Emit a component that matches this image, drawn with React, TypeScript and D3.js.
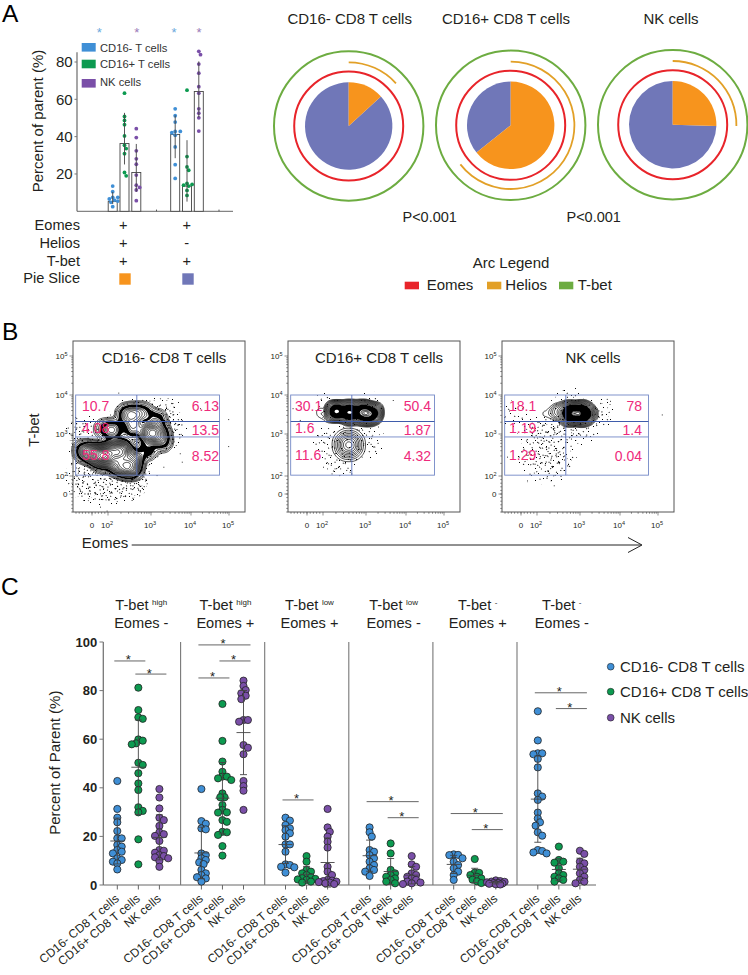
import { useMemo } from 'react';
import * as d3 from 'd3';

const FONT = '"Liberation Sans", Arial, sans-serif';
const INK = '#231f20';
const CELL_COLORS = ['#3f8fd6', '#0c9a50', '#7a4fa8'];

// ---- Panel A data
const barGroups = ['triple', 'noHelios'];
const barCells = ['CD16- T cells', 'CD16+ T cells', 'NK cells'];
const barHeights = [
  [5.2, 36.3, 20.8],
  [41.2, 13.5, 64.2],
];
const barDots = [
  [
    [13.5, 10.5, 7.5, 7.5, 6.6, 6, 5.5, 4.8, 2.5],
    [63.3, 50.8, 48.7, 46.4, 40.4, 35.4, 33.6, 30.9, 20.8, 19],
    [44.3, 39.5, 32.4, 28.1, 25.2, 19.4, 14, 12.8, 11.4, 5.7],
  ],
  [
    [54.9, 51.2, 47.8, 42.8, 42.8, 42.1, 40.7, 34.5, 25, 17.6],
    [64.9, 29.3, 23.8, 22, 14.9, 14, 14.4, 13.5, 11.2, 8.5],
    [85.7, 83.9, 78.9, 74, 66.8, 63.3, 54.9, 52.6, 50.1, 43],
  ],
];
const barTicks = [20, 40, 60, 80];
const rowLabels = ['Eomes', 'Helios', 'T-bet'];
const rowMarks = [
  ['+', '+'],
  ['+', '-'],
  ['+', '+'],
];
const pieTitles = ['CD16- CD8 T cells', 'CD16+ CD8 T cells', 'NK cells'];
const sliceShare = [0.132, 0.643, 0.255];
const heliosShare = [0.133, 0.645, 0.253];
const pValues = ['P<0.001', 'P<0.001'];
const arcNames = ['Eomes', 'Helios', 'T-bet'];
const arcColors = ['#e8242a', '#e2a027', '#6dac41'];
const ORANGE = '#f7941d';
const PERIWINKLE = '#7077b8';

// ---- Panel B data, axis units: 0 = zero, 2 = 10^2 ... 5 = 10^5
const flowTickUnits = [2, 3, 4, 5];
const gateX = [-2.04, 2.67, 4.75];
const gateY = [2.02, 2.93, 3.32, 4.0];
const flowTitles = ['CD16- CD8 T cells', 'CD16+ CD8 T cells', 'NK cells'];
const flowPercents = [
  ['10.7', '6.13', '4.08', '13.5', '55.8', '8.52'],
  ['30.1', '50.4', '1.6', '1.87', '11.6', '4.32'],
  ['18.1', '78', '1.19', '1.4', '1.29', '0.04'],
];
// density peaks: eomes, t-bet, weight
const flowCore = [
  [
    [2.32, 2.6, 9], [2.1, 2.62, 5], [0.58, 2.52, 5], [-0.3, 2.55, 3.5], [-1.08, 2.6, 2.2], [1.2, 2.5, 5], [1.83, 2.5, 6],
    [2.36, 2.22, 6], [2.55, 2.18, 5], [2.16, 2.3, 4], [2.6, 2.4, 4], [1.2, 2.34, 2.5],
    [2.98, 3.02, 7], [3.22, 3.02, 3], [2.43, 3.49, 2.6], [2.6, 3.52, 2.4], [2.82, 3.53, 2.2], [3.14, 3.36, 2.2],
    [3.27, 2.82, 2], [2.59, 3.15, 3], [2.9, 2.62, 2],
    [1.42, 3.13, 1.2], [2.12, 3.1, 3],
  ],
  [
    [2.31, 3.58, 12], [2.62, 3.6, 8], [2.93, 3.6, 8], [3.18, 3.55, 6], [2.62, 3.48, 5], [2.93, 3.48, 5], [3.1, 3.46, 4],
    [1.8, 3.55, 0.35], [0.75, 3.58, 0.05], [2.1, 3.4, 0.2],
  ],
  [
    [2.89, 3.53, 12], [3.05, 3.6, 7], [3.05, 3.45, 7], [2.75, 3.6, 6], [2.75, 3.45, 6], [3.2, 3.52, 4],
    [2.5, 3.57, 2], [2.2, 3.52, 0.4],
  ],
];
// broader peaks, drawn with their own wider kernel
const flowWide = [
  [],
  [[2.6, 2.74, 1]],
  [],
];
// thin scatter around the peaks
const flowCloud = [
  [
    [2.05, 1.17, 8], [-1.08, 1.93, 6], [2.43, 1.17, 8], [1, 1.5, 6], [2.6, 1.6, 6], [-1.4, 3.1, 3],
    [3.5, 3.1, 4], [3.35, 3.55, 4], [0.2, 0.5, 2], [2.1, 0.3, 3], [2, 1.7, 7], [1, 1.95, 6], [-0.8, 1.3, 4],
  ],
  [
    [2.4, 2.35, 1], [2.1, 2.8, 0.6], [3.1, 2.8, 0.5], [3.1, 3.75, 0.25], [2.1, 3.75, 0.25], [2.7, 3.1, 0.6],
  ],
  [
    [2.5, 2.45, 1.5], [2.4, 2.2, 0.7], [2.65, 3.12, 1.6], [2.2, 3.1, 0.9], [1.2, 2.5, 0.4], [1.6, 3.0, 0.5],
    [3.1, 3.1, 0.5], [3.5, 3.55, 0.6], [2.7, 3.82, 0.5], [1.8, 2.15, 0.3], [-0.6, 3.5, 0.3], [2.2, 2.8, 0.7], [1.9, 2.5, 0.5],
  ],
];
const cloudIncludesCore = [true, false, false];
const flowStrays = [
  [
    [4.98, 3.38], [4.98, 2.71], [3.52, 3.79], [2.24, 4.06], [3.77, 2.34], [3.31, 2.22], [1, -1.41], [-1.08, -0.67],
    [-1.83, 0.81], [-0.25, 0.07], [1.83, -1.85], [3.14, 2.02], [4.24, 3.66], [3.77, 3.36], [3.56, 3.7], [3.72, 2.54],
    [2.28, -0.3], [2.74, 0.44], [2.9, 1.19], [2.55, -0.67], [1, 0.07], [2.16, 0.63],
  ],
  [
    [3.67, 3.87], [2.12, 3.15], [2.16, 2.98], [3.13, 2.9], [3.18, 2.7], [2.12, 2.3], [2.27, 2.18], [2, 2.22], [2.62, 2.1],
    [2.2, 2.06], [2.4, 2.18], [2.66, 2.06], [-0.9, 3.36], [3.1, 3.15], [3.3, 3.19], [2.35, 2.22], [2.9, 2.46], [2.04, 2.42],
    [2.08, 2.54], [-1.8, 3.66],
  ],
  [
    [5.1, 3.5], [3.67, 3.9], [3.4, 3.27], [2.39, 0.96], [0.75, 1.5], [-1.75, 2.46], [3.25, 2.95], [2.23, 1.98], [3.75, 3.85],
    [-1.5, 3.6], [-2, 3.45],
  ],
];
const coreBandwidth = [5.5, 4.5, 4.5];
const cloudBandwidth = [7, 7, 7];
const wideBandwidth = 8;
const coreLevels = [
  [0.95, 0.88, 0.81, 0.74, 0.67, 0.61, 0.55, 0.49, 0.44, 0.39, 0.34, 0.3, 0.26, 0.23, 0.2, 0.175, 0.155, 0.06, 0.04, 0.028, 0.018],
  [0.96, 0.9, 0.84, 0.28, 0.22, 0.17, 0.13, 0.1, 0.075, 0.055, 0.04, 0.028, 0.018],
  [0.97, 0.93, 0.2, 0.16, 0.125, 0.095, 0.07, 0.05, 0.036, 0.025, 0.016],
];
const wideLevels = [0.95, 0.85, 0.74, 0.63, 0.52, 0.42, 0.32, 0.23, 0.14];
// painted inside the rings: where the lines merge into black, and the open middle of a peak
const solidLevels = [
  [[0.075, '#000'], [0.14, '#fff']],
  [[0.3, '#000'], [0.78, '#fff']],
  [[0.22, '#000'], [0.91, '#fff']],
];
const cloudLevels = [
  [0.012, 0.025, 0.045, 0.07, 0.1, 0.14],
  [0.05, 0.13, 0.3],
  [0.025, 0.07, 0.16, 0.3, 0.45, 0.62],
];
const stippleTile = [
  [3, 2], [11, 5], [17, 1], [26, 3], [33, 7], [38, 2], [6, 10], [15, 12], [22, 9], [29, 14], [36, 12], [1, 17], [9, 19], [19, 18], [25, 21], [33, 19],
  [39, 23], [4, 25], [13, 27], [21, 26], [30, 28], [36, 30], [8, 32], [16, 35], [24, 33], [2, 36], [28, 38], [34, 36], [11, 39], [20, 38],
];
const stippleTurns = [0, 37, 71, 113, 149, 17];

// ---- Panel C data
const facetTop = ['T-bet', 'T-bet', 'T-bet', 'T-bet', 'T-bet', 'T-bet'];
const facetSup = ['high', 'high', 'low', 'low', '-', '-'];
const facetBottom = ['Eomes -', 'Eomes +', 'Eomes +', 'Eomes -', 'Eomes +', 'Eomes -'];
const cells = ['CD16- CD8 T cells', 'CD16+ CD8 T cells', 'NK cells'];
const parentTicks = [0, 20, 40, 60, 80, 100];
const facetValues = [
  [
    [42.8, 31.3, 27.7, 25.8, 22.2, 19.2, 19.2, 16.5, 15.8, 14.4, 13.7, 13, 11, 10.3, 9.6, 8.9, 6.4],
    [81.2, 72, 69, 68.4, 59.9, 59.4, 58.3, 57.9, 50.3, 49.4, 46, 41.8, 39.1, 32, 30.5, 29.9, 18.8, 8.5],
    [39.5, 36, 31.5, 27.7, 26.7, 24.3, 21.7, 20.9, 20.2, 18.1, 14.4, 14.1, 13.3, 12.3, 11.9, 11.4, 11, 9.9, 7.5],
  ],
  [
    [39.5, 26.3, 25.2, 23.3, 22.9, 13, 12.3, 11, 10.3, 9.3, 8.6, 6.2, 4.8, 4.1, 3.2, 2.7, 1.4],
    [74.5, 59.3, 50.8, 46.6, 44.6, 44.6, 43.9, 43.2, 37.7, 36.1, 36.1, 32.9, 30.9, 29.9, 29.8, 26.7, 26, 21.9, 21.7, 20.6, 16, 12.1],
    [84.1, 81.9, 80.2, 78.9, 77.9, 76.5, 67.9, 67.9, 67.2, 57.6, 56.5, 53.8, 42.8, 40.7, 38.8, 30.9],
  ],
  [
    [27.7, 26.5, 24.7, 23.3, 22.6, 21.3, 19.9, 16.7, 16.7, 13.7, 8.5, 8.2, 7.5, 7.3, 5.1],
    [11.9, 9.6, 6.2, 5.5, 4.8, 4.1, 3.2, 2.5, 2.3, 2.1, 1.4, 1, 2.8],
    [31.3, 23.7, 21.9, 19.9, 17.8, 15.4, 7.5, 5.5, 4.1, 2.1, 1.6, 1.4, 1.2, 1, 0.7, 0.4, 1.8],
  ],
  [
    [23.7, 21.7, 19.9, 14.4, 13.7, 12.3, 11, 9.6, 8.2, 6.9, 6.2, 5.5, 3.7],
    [17.1, 13, 6.2, 4.8, 4.1, 3.4, 2.7, 2.1, 1.4, 0.7],
    [11.9, 8.5, 7.5, 4.8, 4.1, 3.4, 2.7, 2.1, 1.4, 1, 0.7, 0.4],
  ],
  [
    [12.6, 12.4, 12.3, 11, 9.6, 8.2, 6.9, 5.5, 4.1, 2.1],
    [10.7, 5.1, 5, 4.1, 3.4, 2.7, 2.2, 1.5, 0.8],
    [1.9, 1.6, 1.4, 1.3, 1.1, 0.9, 0.8, 0.6, 0.5, 0.3, 0.2],
  ],
  [
    [71.5, 59.5, 54.2, 54.2, 53.8, 51.9, 48.4, 37.7, 36.4, 35, 29.8, 27.4, 25.8, 24.4, 21.7, 20.3, 14.4, 14, 13.4, 13],
    [15.8, 10.3, 9.6, 9.2, 6.9, 4.8, 4.1, 3.4, 2.7, 2.1, 1.4],
    [14.1, 12.8, 9.6, 8.9, 7.5, 6.2, 4.8, 3.4, 2.1, 1.4, 0.7],
  ],
];
// significance bars: facet, from cell, to cell, height on the axis
const sigBars = [
  [0, 0, 1, 92.2], [0, 1, 2, 86.8],
  [1, 0, 2, 98.8], [1, 1, 2, 92.2], [1, 0, 1, 85.2],
  [2, 0, 1, 35],
  [3, 0, 2, 34.3], [3, 1, 2, 27.7],
  [4, 0, 2, 29.4], [4, 1, 2, 22.8],
  [5, 0, 2, 79.1], [5, 1, 2, 72.6],
];

// pushes dots sideways as far as needed, and once the column is full takes the emptiest slot
function swarm(values: number[], y: (v: number) => number, gap: number, step: number, widest: number) {
  const placed: { v: number; dx: number; py: number }[] = [];
  const slots = d3.range(0, Math.floor(widest / step) * 2 + 1).map(i => Math.ceil(i / 2) * (i % 2 ? 1 : -1) * step);
  [...values].sort((a, b) => d3.descending(a, b)).forEach(v => {
    const py = y(v);
    let best = 0;
    let room = -1;
    for (const dx of slots) {
      const near = d3.min(placed, p => Math.hypot(p.dx - dx, p.py - py)) ?? Infinity;
      if (near >= gap) {
        best = dx;
        break;
      }
      if (near > room) {
        room = near;
        best = dx;
      }
    }
    placed.push({ v, dx: best, py });
  });
  return placed;
}

function Stat({ x, values, y, cap, mean }: { x: number; values: number[]; y: (v: number) => number; cap: number; mean?: number }) {
  const m = d3.mean(values) as number;
  const sd = d3.deviation(values) as number;
  return (
    <g stroke="#444" strokeWidth={0.9} fill="none">
      <line x1={x} x2={x} y1={y(m - sd)} y2={y(m + sd)} />
      <line x1={x - cap} x2={x + cap} y1={y(m - sd)} y2={y(m - sd)} />
      <line x1={x - cap} x2={x + cap} y1={y(m + sd)} y2={y(m + sd)} />
      {mean ? <line x1={x - mean} x2={x + mean} y1={y(m)} y2={y(m)} /> : null}
    </g>
  );
}

function PanelA() {
  const y = d3.scaleLinear().domain([0, 80]).range([211.3, 62]);
  const xGroup = d3.scalePoint<string>().domain(barGroups).range([124.5, 187]);
  const xCell = d3.scalePoint<string>().domain(barCells).range([-11.8, 11.8]);
  const legendY = [47.3, 64, 83.3];
  const legendBase = [52, 68, 86];
  const rowBase = [230, 248.3, 266];
  const starX = [99.3, 136.7, 174, 199];
  const starColor = ['#6aa8dc', '#9a7ab8', '#6aa8dc', '#9a7ab8'];
  const swatches = [ORANGE, PERIWINKLE];

  return (
    <g fontFamily={FONT} fill={INK}>
      {starX.map((x, i) => (
        <text key={i} x={x} y={37} fontSize={13} textAnchor="middle" fill={starColor[i]}>*</text>
      ))}
      <line x1={77} x2={77} y1={52.3} y2={211.3} stroke="#777" strokeWidth={1.3} />
      <line x1={77} x2={233} y1={211.3} y2={211.3} stroke="#555" strokeWidth={0.9} />
      {barTicks.map(t => (
        <g key={t}>
          <line x1={74.5} x2={77} y1={y(t)} y2={y(t)} stroke="#777" />
          <text x={72.7} y={y(t) + 5.2} fontSize={15} textAnchor="end">{t}</text>
        </g>
      ))}
      {barGroups.map(g => (
        <line key={g} x1={xGroup(g)! + 32} x2={xGroup(g)! + 32} y1={209.6} y2={211.3} stroke="#555" />
      ))}
      <text transform="translate(43,121) rotate(-90)" fontSize={15} textAnchor="middle">Percent of parent (%)</text>

      {barGroups.map((g, gi) =>
        barCells.map((c, ci) => {
          const cx = xGroup(g)! + xCell(c)!;
          const dots = swarm(barDots[gi][ci], y, 3.6, 1.7, 6);
          return (
            <g key={g + c}>
              <rect x={cx - 4.5} y={y(barHeights[gi][ci])} width={9} height={y(0) - y(barHeights[gi][ci])} fill="#fff" stroke="#444" strokeWidth={0.9} />
              {dots.map((d, i) => (
                <circle key={i} cx={cx + d.dx} cy={d.py} r={1.9} fill={CELL_COLORS[ci]} />
              ))}
              <Stat x={cx} values={barDots[gi][ci]} y={y} cap={0} />
            </g>
          );
        }),
      )}

      {barCells.map((c, i) => (
        <g key={c}>
          <rect x={81.7} y={legendY[i] - 4.3} width={14} height={8.6} fill={CELL_COLORS[i]} />
          <text x={100} y={legendBase[i]} fontSize={11.2} fill="#333">{c}</text>
        </g>
      ))}

      {rowLabels.map((r, i) => (
        <g key={r}>
          <text x={80} y={rowBase[i]} fontSize={14.6} textAnchor="end">{r}</text>
          {rowMarks[i].map((m, j) => (
            <text key={j} x={xGroup(barGroups[j])! - (j ? 0.3 : 1.2)} y={rowBase[i]} fontSize={14.6} textAnchor="middle">{m}</text>
          ))}
        </g>
      ))}
      <text x={80} y={283} fontSize={14.6} textAnchor="end">Pie Slice</text>
      {swatches.map((c, j) => (
        <rect key={c} x={xGroup(barGroups[j])! - (j ? 4.7 : 5.2)} y={273.3} width={11.4} height={11.4} fill={c} />
      ))}
    </g>
  );
}

function PanelPies() {
  const cx = d3.scalePoint<string>().domain(['0', '1', '2']).range([348.7, 672.7]);
  const cy = [126, 125.3, 124.7];
  const titleX = [349.7, 506, 671];
  const pie = d3.pie<number>().sort(null);
  const slice = d3.arc<d3.PieArcDatum<number>>().innerRadius(0).outerRadius(43.7);
  const ring = d3.arc();
  const pX = [429.7, 593.7];
  const legendRect = [404.7, 487, 559];
  const legendText = [426.7, 505.3, 577.7];

  return (
    <g fontFamily={FONT} fill={INK}>
      {pieTitles.map((t, i) => (
        <text key={t} x={titleX[i]} y={23.5} fontSize={15} textAnchor="middle">{t}</text>
      ))}
      {sliceShare.map((s, i) => {
        const parts = pie([s, 1 - s]);
        return (
          <g key={i} transform={`translate(${cx(String(i))},${cy[i]})`}>
            <path d={slice(parts[1]) as string} fill={PERIWINKLE} />
            <path d={slice(parts[0]) as string} fill={ORANGE} />
            <circle r={54.5} fill="none" stroke={arcColors[0]} strokeWidth={2} />
            <circle r={74.7} fill="none" stroke={arcColors[2]} strokeWidth={2} />
            <path
              d={ring({ innerRadius: 62.8, outerRadius: 64.6, startAngle: 0, endAngle: heliosShare[i] * 2 * Math.PI }) as string}
              fill={arcColors[1]}
            />
          </g>
        );
      })}
      {pValues.map((p, i) => (
        <text key={i} x={pX[i]} y={222} fontSize={14.5} textAnchor="middle">{p}</text>
      ))}
      <text x={511} y={268} fontSize={15} textAnchor="middle">Arc Legend</text>
      {arcNames.map((a, i) => (
        <g key={a}>
          <rect x={legendRect[i]} y={281.7} width={14.3} height={7.6} fill={arcColors[i]} />
          <text x={legendText[i]} y={290} fontSize={15}>{a}</text>
        </g>
      ))}
    </g>
  );
}

const flowW = 172;
const flowH = 171;
const flowX = d3.scaleLinear().domain([0, 2, 3, 4, 5]).range([19, 35, 78, 118, 156]);
const flowY = d3.scaleLinear().domain([0, 2, 3, 4, 5]).range([153, 135, 93, 54, 15]);

function densityOf(points: number[][], bandwidth: number) {
  return d3
    .contourDensity<number[]>()
    .x(d => flowX(d[0]))
    .y(d => flowY(d[1]))
    .weight(d => d[2])
    .size([flowW, flowH])
    .cellSize(1)
    .bandwidth(bandwidth)
    .contours(points);
}

function FlowPlot({ index, left }: { index: number; left: number }) {
  const path = d3.geoPath();
  const { rings, solids, clouds, wide } = useMemo(() => {
    const core = densityOf(flowCore[index], coreBandwidth[index]);
    const cloudPoints = cloudIncludesCore[index] ? [...flowCore[index], ...flowCloud[index]] : flowCloud[index];
    const cloud = densityOf(cloudPoints, cloudBandwidth[index]);
    const broad = flowWide[index].length ? densityOf(flowWide[index], wideBandwidth) : null;
    return {
      rings: coreLevels[index].map(f => core(core.max * f)),
      solids: solidLevels[index].map(([f, color]) => ({ shape: core(core.max * (f as number)), color: color as string })),
      clouds: cloudLevels[index].map(f => cloud(cloud.max * f)),
      wide: broad ? wideLevels.map(f => broad(broad.max * f)) : [],
    };
  }, [index]);

  const minor = d3.range(2, 5).flatMap(d => d3.range(2, 10).map(m => d + Math.log10(m)));
  const nearZero = d3.range(-2, 2, 0.4);
  const lx = [[9, 146], [7, 143], [7, 140]][index];
  const rowsLeft = [410.5, 433, 459.5].map(v => v - 341);
  const rowsRight = [410.5, 435, 460.5].map(v => v - 341);

  return (
    <g transform={`translate(${left},341)`} fontFamily={FONT}>
      {clouds.map((c, i) => (
        <path key={i} d={path(c) as string} fill={`url(#stipple${i})`} />
      ))}
      {wide.map((c, i) => (
        <path key={i} d={path(c) as string} fill="none" stroke="#222" strokeWidth={0.8} />
      ))}
      {solids.map((s, i) => (
        <path key={i} d={path(s.shape) as string} fill={s.color} />
      ))}
      {rings.map((c, i) => (
        <path key={i} d={path(c) as string} fill="none" stroke="#111" strokeWidth={0.8} />
      ))}
      {flowStrays[index].map((d, i) => (
        <rect key={i} x={flowX(d[0])} y={flowY(d[1])} width={0.9} height={0.9} fill="#000" />
      ))}

      <g stroke="#7388c6" strokeWidth={0.9} fill="none">
        <rect x={flowX(gateX[0])} y={flowY(gateY[3])} width={flowX(gateX[2]) - flowX(gateX[0])} height={flowY(gateY[0]) - flowY(gateY[3])} />
        <line x1={flowX(gateX[1])} x2={flowX(gateX[1])} y1={flowY(gateY[3])} y2={flowY(gateY[0])} stroke="#5a72bc" />
        <line x1={flowX(gateX[0])} x2={flowX(gateX[2])} y1={flowY(gateY[1])} y2={flowY(gateY[1])} />
        <line x1={flowX(gateX[0])} x2={flowX(gateX[2])} y1={flowY(gateY[2])} y2={flowY(gateY[2])} stroke="#3f5cab" strokeWidth={1.1} />
      </g>
      {flowPercents[index].map((p, i) => {
        const row = Math.floor(i / 2);
        return i % 2 === 0 ? (
          <text key={i} x={lx[0]} y={rowsLeft[row]} fontSize={14} fill="#ee2a7b">{p}</text>
        ) : (
          <text key={i} x={lx[1]} y={rowsRight[row]} fontSize={14} fill="#ee2a7b" textAnchor="end">{p}</text>
        );
      })}
      <text x={91} y={21.7} fontSize={15} fill={INK} textAnchor="middle">{flowTitles[index]}</text>

      <rect width={flowW} height={flowH} fill="none" stroke="#555" strokeWidth={1} />
      <g stroke="#444" strokeWidth={0.6}>
        {minor.map(u => (
          <g key={u}>
            <line x1={flowX(u)} x2={flowX(u)} y1={flowH} y2={flowH + 1.8} />
            <line y1={flowY(u)} y2={flowY(u)} x1={-1.8} x2={0} />
          </g>
        ))}
        {nearZero.map(u => (
          <g key={u}>
            <line x1={flowX(u)} x2={flowX(u)} y1={flowH} y2={flowH + 1.8} />
            <line y1={flowY(u)} y2={flowY(u)} x1={-1.8} x2={0} />
          </g>
        ))}
        {flowTickUnits.map(u => (
          <g key={u}>
            <line x1={flowX(u)} x2={flowX(u)} y1={flowH} y2={flowH + 3.5} />
            <line y1={flowY(u)} y2={flowY(u)} x1={-3.5} x2={0} />
          </g>
        ))}
        <line x1={flowX(0)} x2={flowX(0)} y1={flowH} y2={flowH + 3.5} />
        <line y1={flowY(0)} y2={flowY(0)} x1={-3.5} x2={0} />
      </g>
      <g fill={INK} fontSize={8}>
        <text x={flowX(0)} y={flowH + 16} textAnchor="middle">0</text>
        <text x={-5.5} y={flowY(0) + 3} textAnchor="end">0</text>
        {flowTickUnits.map(u => (
          <g key={u}>
            <text x={flowX(u) - 1} y={flowH + 16} textAnchor="middle">10<tspan fontSize={5.5} dy={-3}>{u}</tspan></text>
            <text x={-5.5} y={flowY(u) + 2.5} textAnchor="end">10<tspan fontSize={5.5} dy={-3}>{u}</tspan></text>
          </g>
        ))}
      </g>
    </g>
  );
}

function PanelB() {
  const lefts = [73, 288, 502];
  return (
    <g>
      <defs>
        {stippleTurns.map((r, i) => (
          <pattern
            key={r}
            id={`stipple${i}`}
            width={40}
            height={40}
            patternUnits="userSpaceOnUse"
            patternTransform={`rotate(${r})`}
          >
            {stippleTile.map((d, j) => (
              <rect key={j} x={d[0]} y={d[1]} width={1} height={1} fill="#000" />
            ))}
          </pattern>
        ))}
      </defs>
      {lefts.map((l, i) => (
        <FlowPlot key={l} index={i} left={l} />
      ))}
      <g fontFamily={FONT} fill={INK}>
        <text transform="translate(39,430) rotate(-90)" fontSize={14.6} textAnchor="middle">T-bet</text>
        <text x={81.7} y={548} fontSize={15}>Eomes</text>
      </g>
      <g stroke="#222" fill="none" strokeWidth={1}>
        <line x1={131.7} x2={641} y1={545} y2={545} />
        <polyline points="628,537.5 642,545 628,552.5" />
      </g>
    </g>
  );
}

function PanelC() {
  const y = d3.scaleLinear().domain([0, 100]).range([885, 642]);
  const facets = facetBottom.map((_, i) => String(i));
  const xFacet = d3.scaleBand().domain(facets).range([96.5, 96.5 + 84.1 * 6]);
  const xCell = d3.scalePoint<string>().domain(cells).range([20.8, 62.9]);
  const cellX = (f: number, c: number) => xFacet(String(f))! + xCell(cells[c])!;
  const legendDots = [666.7, 691.7, 717.7];

  return (
    <g fontFamily={FONT} fill={INK}>
      <text transform="translate(60,762.7) rotate(-90)" fontSize={15} textAnchor="middle">Percent of Parent (%)</text>
      <line x1={103.3} x2={103.3} y1={642} y2={885} stroke="#777" strokeWidth={1.3} />
      <line x1={103.3} x2={596} y1={885} y2={885} stroke="#666" strokeWidth={1} />
      {parentTicks.map(t => (
        <g key={t}>
          <line x1={99.5} x2={103.3} y1={y(t)} y2={y(t)} stroke="#777" strokeWidth={1} />
          <text x={97.3} y={y(t) + 4.6} fontSize={13} fontWeight="bold" textAnchor="end">{t}</text>
        </g>
      ))}
      {facets.slice(1).map(f => (
        <line key={f} x1={xFacet(f)!} x2={xFacet(f)!} y1={642} y2={885} stroke="#777" strokeWidth={1.1} />
      ))}
      {facets.map((f, fi) => {
        const mid = xFacet(f)! + 44.8;
        return (
          <g key={f}>
            <text x={mid} y={610} fontSize={14.6} textAnchor="middle">
              {facetTop[fi]}
              <tspan fontSize={8} dx={3.5} dy={-5}>{facetSup[fi]}</tspan>
            </text>
            <text x={mid} y={628} fontSize={14.6} textAnchor="middle">{facetBottom[fi]}</text>
            {cells.map((c, ci) => {
              const cx = cellX(fi, ci);
              const dots = swarm(facetValues[fi][ci], y, 4.4, 2.2, 9);
              return (
                <g key={c}>
                  <line x1={cx} x2={cx} y1={885} y2={889.5} stroke="#666" />
                  {dots.map((d, i) => (
                    <circle key={i} cx={cx + d.dx} cy={d.py} r={3.6} fill={CELL_COLORS[ci]} stroke="#222" strokeWidth={0.8} />
                  ))}
                  <Stat x={cx} values={facetValues[fi][ci]} y={y} cap={3.5} mean={7} />
                  <text transform={`translate(${cx + 2.5},900) rotate(-40)`} fontSize={12} textAnchor="end">{c}</text>
                </g>
              );
            })}
          </g>
        );
      })}
      {sigBars.map(([f, a, b, v], i) => {
        const x1 = cellX(f, a) - 3;
        const x2 = cellX(f, b) + 7;
        return (
          <g key={i}>
            <line x1={x1} x2={x2} y1={y(v)} y2={y(v)} stroke="#666" strokeWidth={1} />
            <text x={(x1 + x2) / 2 - 1.5} y={y(v) + 3.5} fontSize={13} textAnchor="middle">*</text>
          </g>
        );
      })}
      {cells.map((c, i) => (
        <g key={c}>
          <circle cx={610.7} cy={legendDots[i]} r={3.4} fill={CELL_COLORS[i]} stroke="#222" strokeWidth={0.6} />
          <text x={620} y={legendDots[i] + 5} fontSize={15}>{c}</text>
        </g>
      ))}
    </g>
  );
}

export default function App() {
  return (
    <svg width={748} height={975} style={{ position: 'absolute', left: 0, top: 0, background: '#fff' }}>
      <g fontFamily={FONT} fontSize={24.5} fill="#000">
        <text x={2} y={22.3}>A</text>
        <text x={2} y={340}>B</text>
        <text x={1} y={595}>C</text>
      </g>
      <PanelA />
      <PanelPies />
      <PanelB />
      <PanelC />
    </svg>
  );
}
